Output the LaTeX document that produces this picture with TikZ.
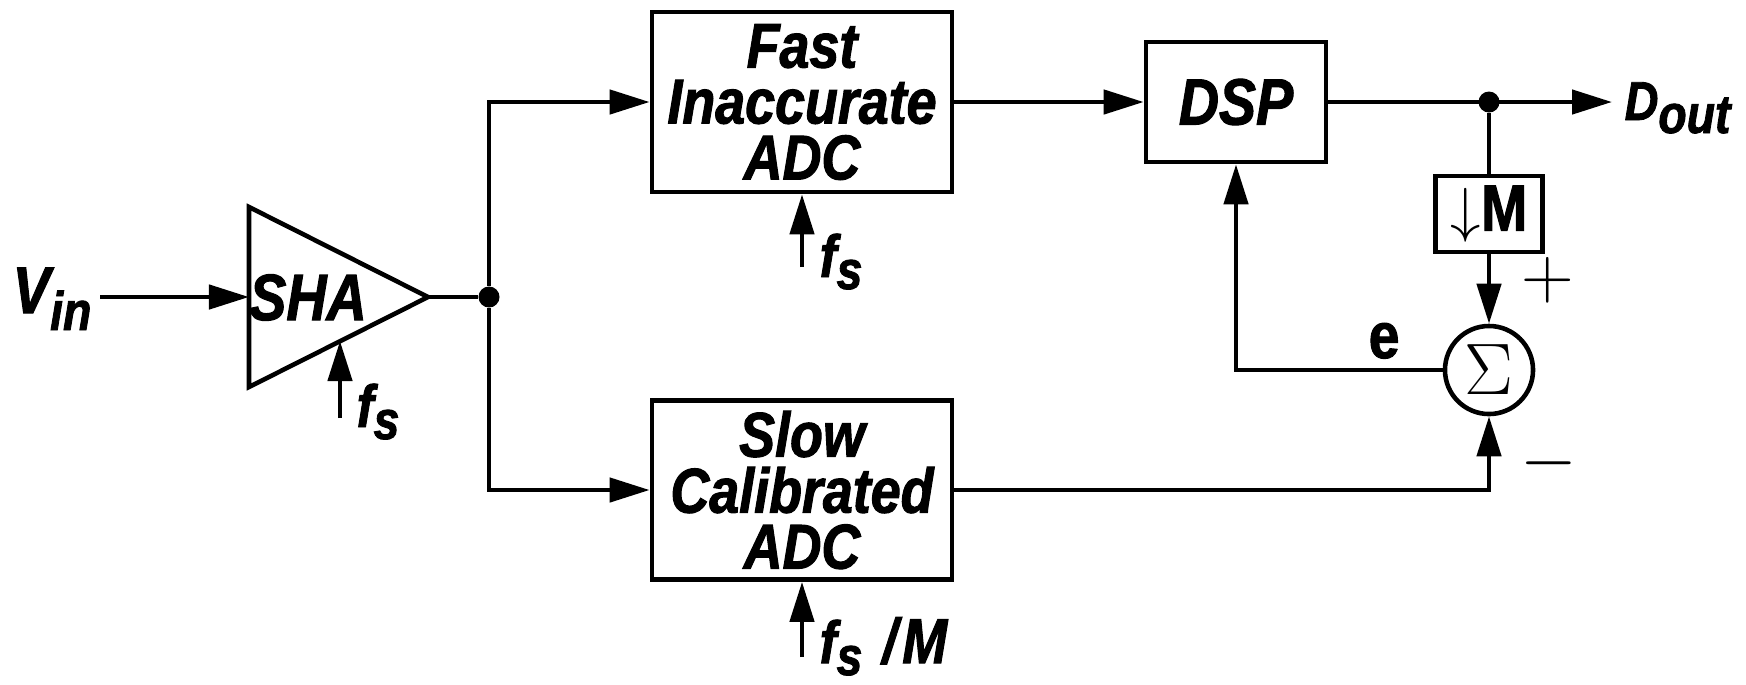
\documentclass[tikz,border=0pt]{standalone}
\usepackage{fontspec}
\setmainfont{Liberation Sans}
\newfontfamily\lab{Liberation Sans}[FakeStretch=0.85,FakeBold=1.6]
\usetikzlibrary{arrows.meta}
\newcommand\blkfont{\lab\bfseries\itshape\fontsize{18}{15.9}\selectfont}
\newcommand\subfont{\lab\bfseries\itshape\fontsize{15.5}{15.5}\selectfont}
\newcommand\lowered[2]{\raisebox{-#1}{\subfont #2}}
\tikzset{
  wire/.style={line width=1.3pt},
  arr/.style={wire,-{Triangle[length=4mm,width=2.4mm]}},
  blk/.style={draw, line width=1.3pt, rectangle, inner sep=0pt, align=center, font=\blkfont},
  jdot/.style={circle, fill, inner sep=0pt, minimum size=2.1mm},
  lbl/.style={inner sep=0pt},
}
\begin{document}
\begin{tikzpicture}[x=0.01cm,y=-0.01cm]
\useasboundingbox (0,0) rectangle (1746,684);
% SHA
\coordinate (shaTL) at (249,207);
\coordinate (shaBL) at (249,387);
\coordinate (shaO) at (428,297);
\draw[wire, line join=miter] (shaTL) -- (shaO) -- (shaBL) -- cycle;
\coordinate (shaIn) at (249,297);
\coordinate (vinS) at (100,297);
\draw[arr] (vinS) -- (shaIn);
\node[lbl, anchor=base west] (vin) at (12,313) {\blkfont\fontsize{18.8}{18}\selectfont V\lowered{0.17cm}{in}};
\node[lbl, anchor=base] (shatxt) at (308,320) {\blkfont\fontsize{18.6}{18}\selectfont SHA};
\coordinate (shaClk) at (340,341);
\coordinate (shaClkS) at (340,418);
\draw[arr] (shaClkS) -- (shaClk);
\node[lbl, anchor=base west] (fs1) at (356,427) {\subfont\fontsize{17}{16}\selectfont f\lowered{0.12cm}{s}};
% junction
\node[jdot] (j1) at (489,297) {};
\draw[wire] (shaO) -- (j1);
% ADCs
\node[blk, minimum width=3cm, minimum height=1.8cm] (fast) at (802,102) {Fast\\Inaccurate\\ADC};
\node[blk, minimum width=3cm, minimum height=1.79cm] (slow) at (802,490) {Slow\\Calibrated\\ADC};
\draw[arr] (j1) |- (fast.west);
\draw[arr] (j1) |- (slow.west);
\coordinate (fclk) at (802,267);
\draw[arr] (fclk) -- (fast.south);
\node[lbl, anchor=base west] (fs2) at (819,277) {\subfont\fontsize{17}{16}\selectfont f\lowered{0.12cm}{s}};
\coordinate (sclk) at (802,657);
\draw[arr] (sclk) -- (slow.south);
\node[lbl, anchor=base west] (fs3) at (819,663) {\subfont\fontsize{17}{16}\selectfont f\lowered{0.12cm}{s}\hspace{0.2cm}\blkfont\fontsize{18}{16}\selectfont /\hspace{0.05cm}M};
% DSP
\node[blk, minimum width=1.8cm, minimum height=1.2cm] (dsp) at (1236,102) {\fontsize{18.6}{18}\selectfont DSP};
\draw[arr] (fast.east) -- (dsp.west);
\node[jdot] (j2) at (1489,102) {};
\coordinate (dout) at (1612,102);
\draw[arr] (dsp.east) -- (dout);
\node[lbl, anchor=base west] (doutl) at (1624,120) {\subfont\fontsize{15.6}{15}\selectfont D\lowered{0.13cm}{out}};
% decimator and summer
\node[draw, wire, rectangle, minimum width=1.07cm, minimum height=0.76cm, inner sep=0pt] (dec) at (1489,214) {\fontsize{18}{18}\selectfont$\downarrow$\lab\bfseries\fontsize{18.5}{18}\selectfont M};
\draw[wire] (j2) -- (dec.north);
\node[draw, wire, circle, minimum size=0.88cm, inner sep=0pt] (sum) at (1489,370) {\fontsize{20}{20}\selectfont$\Sigma$};
\draw[arr] (dec.south) -- (sum.north);
\draw[arr] (slow.east) -| (sum.south);
\draw[arr] (sum.west) -| (dsp.south);
\node[lbl, anchor=base west] (el) at (1368,358) {\lab\bfseries\fontsize{18.5}{18}\selectfont e};
\node[lbl] (plus) at (1548,280) {\fontsize{20}{20}\selectfont$+$};
\node[lbl] (minus) at (1549,463) {\fontsize{20}{20}\selectfont$-$};
\end{tikzpicture}
\end{document}
